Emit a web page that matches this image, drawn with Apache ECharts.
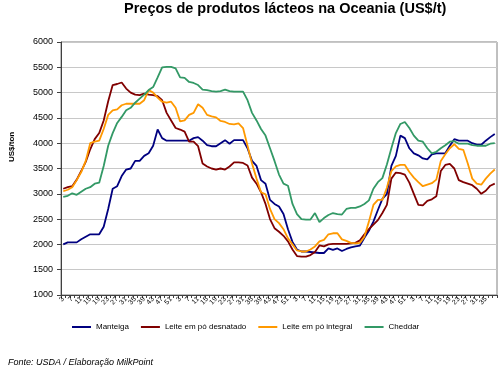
<!DOCTYPE html>
<html><head><meta charset="utf-8">
<script src="https://cdn.jsdelivr.net/npm/echarts@6/dist/echarts.min.js"></script>
<style>html,body{margin:0;padding:0;background:#fff}#c{width:499px;height:374px}</style>
</head><body><div id="c"></div>
<script>
const weeks = [
 '3','5','7','9','11','13','15','17','19','21','23','25','27','29','31','33','35','37','39','41','43','45','47','49','51',
 '1','3','5','7','9','11','13','15','17','19','21','23','25','27','29','31','33','35','37','39','41','43','45','47','49','51',
 '1','3','5','7','9','11','13','15','17','19','21','23','25','27','29','31','33','35','37','39','41','43','45','47','49','51',
 '1','3','5','7','9','11','13','15','17','19','21','23','25','27','29','31','33','35','37','39'
];
const manteiga = [
 2000,2040,2040,2040,2100,2150,2200,2200,2200,2350,2700,3100,3150,3350,3480,3500,3650,3650,3750,3800,3950,4270,4100,4050,
 4050,4050,4050,4050,4050,4100,4120,4050,3960,3940,3940,4000,4060,3990,4060,4060,4060,3900,3650,3550,3270,3200,2880,2800,2750,
 2600,2300,2050,1900,1860,1860,1850,1840,1830,1830,1920,1890,1920,1870,1910,1940,1960,1975,2130,2270,2450,2680,2900,3000,
 3550,3750,4150,4100,3900,3800,3760,3700,3680,3780,3800,3800,3800,3950,4080,4050,4050,4050,4000,3970,3970,4050,4120,4180
];
const desnatado = [
 3100,3130,3150,3280,3450,3630,3880,4080,4200,4450,4830,5150,5170,5200,5080,5000,4960,4950,4980,4960,4950,4930,4850,4600,
 4450,4300,4270,4230,4030,4030,3940,3600,3540,3500,3480,3500,3480,3540,3620,3620,3610,3560,3320,3200,3030,2800,2500,2320,2250,
 2170,2060,1900,1770,1760,1760,1790,1850,1980,1960,2000,2010,2010,2010,2010,2020,2030,2080,2200,2300,2390,2480,2620,2780,
 3300,3420,3410,3380,3220,3000,2780,2770,2860,2890,2950,3450,3570,3590,3500,3270,3230,3200,3170,3100,3000,3060,3160,3200
];
const integral = [
 3050,3080,3130,3270,3430,3650,4000,4030,4050,4280,4560,4650,4670,4750,4780,4780,4780,4780,4850,5050,5000,4900,4820,4800,
 4820,4700,4430,4450,4560,4600,4770,4700,4560,4530,4510,4440,4420,4380,4370,4390,4300,3950,3600,3300,3030,2990,2700,2500,2420,
 2300,2120,2000,1880,1860,1860,1900,1960,2060,2090,2200,2220,2220,2100,2070,2030,2020,2030,2150,2450,2780,2880,2880,3120,
 3450,3540,3570,3570,3430,3320,3230,3150,3180,3210,3280,3650,3780,3900,3980,3890,3870,3600,3300,3200,3180,3300,3400,3480
];
const cheddar = [
 2940,2960,3010,2980,3040,3100,3130,3200,3220,3550,3950,4200,4400,4520,4650,4700,4800,4880,4960,5050,5110,5300,5500,5510,
 5510,5480,5300,5290,5210,5190,5150,5060,5050,5030,5020,5030,5060,5030,5020,5020,5020,4850,4600,4450,4280,4150,3900,3650,3380,
 3200,3160,2800,2600,2500,2490,2490,2620,2440,2520,2580,2620,2600,2590,2700,2720,2720,2750,2800,2870,3100,3230,3310,3580,
 3900,4200,4380,4420,4300,4150,4050,4030,3900,3800,3830,3900,3960,4030,4040,3990,3990,3990,3960,3950,3950,3950,3990,4000
];
const seriesNames = ['Manteiga','Leite em pó desnatado','Leite em pó integral','Cheddar'];
const seriesColors = ['#000080','#800000','#FF9900','#339966'];
const seriesData = [manteiga, desnatado, integral, cheddar];

const FONT = '"Liberation Sans", Arial, sans-serif';
const chart = echarts.init(document.getElementById('c'), null, {renderer:'canvas'});
chart.setOption({
  animation:false,
  backgroundColor:'#ffffff',
  textStyle:{fontFamily:FONT},
  grid:{left:61,right:2,top:42,bottom:79,show:true,borderColor:'#808080',borderWidth:1,backgroundColor:'transparent'},
  legend:{
    left:67, top:318, itemWidth:19, itemHeight:2, itemGap:12, icon:'rect',
    textStyle:{fontFamily:FONT,fontSize:8,color:'#000'},
    data:seriesNames
  },
  xAxis:{
    type:'category', data:weeks, boundaryGap:true,
    axisLine:{lineStyle:{color:'#404040',width:1}},
    axisTick:{show:true,interval:0,length:3,inside:false,lineStyle:{color:'#404040'}},
    axisLabel:{interval:1,rotate:45,fontSize:7,margin:3,color:'#000',fontFamily:FONT},
    splitLine:{show:false}
  },
  yAxis:{
    type:'value', min:1000, max:6000, interval:500,
    axisLine:{show:true,lineStyle:{color:'#404040',width:1}},
    axisTick:{show:true,length:4,lineStyle:{color:'#404040'}},
    axisLabel:{fontSize:9,margin:8,color:'#000',fontFamily:FONT,formatter:function(v){return String(v);}},
    splitLine:{show:true,lineStyle:{color:'#c8c8c8',width:1}}
  },
  graphic:[
    {type:'text',left:124,top:1,style:{text:'Preços de produtos lácteos na Oceania (US$/t)',font:'bold 14.5px "Liberation Sans", Arial, sans-serif',fill:'#000'}},
    {type:'text',rotation:Math.PI/2,x:8,y:162,style:{text:'US$/ton',font:'bold 8px "Liberation Sans", Arial, sans-serif',fill:'#000'}},
    {type:'text',left:8,top:358,style:{text:'Fonte: USDA / Elaboração MilkPoint',font:'italic 9px "Liberation Sans", Arial, sans-serif',fill:'#000'}}
  ],
  series: seriesData.map((d,k)=>({
    name:seriesNames[k], type:'line', data:d, showSymbol:false, symbol:'none',
    lineStyle:{color:seriesColors[k],width:1.8}, itemStyle:{color:seriesColors[k]}
  }))
});
</script></body></html>
